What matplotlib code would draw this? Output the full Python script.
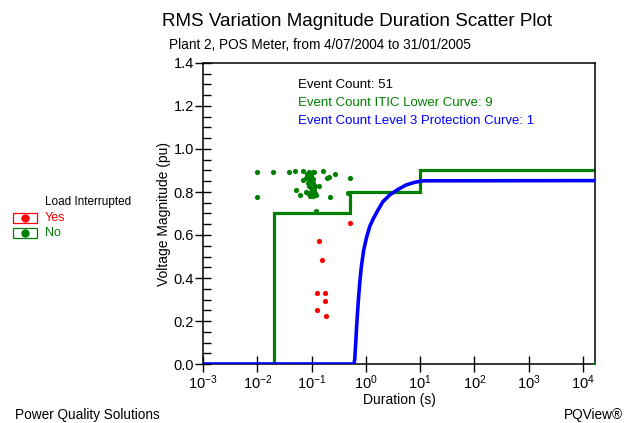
import matplotlib
matplotlib.use("Agg")
import matplotlib.pyplot as plt
from matplotlib.ticker import MultipleLocator, FormatStrFormatter, NullLocator
from matplotlib.patches import Rectangle
from matplotlib.lines import Line2D

plt.rcParams['font.family'] = ['Liberation Sans', 'DejaVu Sans']
plt.rcParams['mathtext.fontset'] = 'custom'
plt.rcParams['mathtext.rm'] = 'Liberation Sans'
plt.rcParams['mathtext.it'] = 'Liberation Sans'

# events - load not interrupted (green)
no_dur = [0.0097, 0.0196, 0.0385, 0.049, 0.070, 0.089, 0.104, 0.110, 0.163, 0.21,
          0.193, 0.275, 0.504, 0.070, 0.078, 0.089, 0.099, 0.107, 0.086, 0.114,
          0.137, 0.099, 0.051, 0.060, 0.086, 0.095, 0.107, 0.093, 0.123, 0.222,
          0.0097, 0.47, 0.120, 0.097, 0.082, 0.100, 0.110, 0.089, 0.092, 0.104,
          0.080, 0.116, 16500]
no_mag = [0.894, 0.894, 0.894, 0.896, 0.896, 0.893, 0.891, 0.893, 0.896, 0.870,
          0.864, 0.884, 0.867, 0.857, 0.865, 0.865, 0.876, 0.860, 0.842, 0.829,
          0.827, 0.819, 0.808, 0.787, 0.795, 0.787, 0.780, 0.780, 0.787, 0.775,
          0.775, 0.795, 0.710, 0.875, 0.884, 0.805, 0.809, 0.828, 0.850, 0.840,
          0.800, 0.795, 0.0]

# events - load interrupted (red)
yes_dur = [0.503, 0.137, 0.158, 0.128, 0.177, 0.177, 0.128, 0.188]
yes_mag = [0.654, 0.574, 0.484, 0.332, 0.332, 0.291, 0.251, 0.223]

# ITIC lower curve
itic_t = [0.001, 0.02, 0.02, 0.5, 0.5, 10, 10, 16600]
itic_v = [0.0, 0.0, 0.7, 0.7, 0.8, 0.8, 0.9, 0.9]

# level 3 protection curve
prot_t = [0.001, 0.60, 0.622, 0.649, 0.687, 0.728, 0.769, 0.826, 0.912, 1.02,
          1.175, 1.35, 1.67, 2.06, 2.74, 3.89, 5.55, 7.89, 11.2, 16600]
prot_v = [0.0, 0.0, 0.019, 0.096, 0.205, 0.298, 0.375, 0.453, 0.530, 0.585,
          0.639, 0.673, 0.716, 0.755, 0.786, 0.812, 0.833, 0.845, 0.852, 0.853]

xticks = [1e-3, 1e-2, 1e-1, 1e0, 1e1, 1e2, 1e3, 1e4]

fig = plt.figure(figsize=(6.27, 4.23), dpi=100)
ax = fig.add_axes([203/627, 1-364/423, (595-203)/627, (364-63)/423])

ax.plot(itic_t, itic_v, color='#008000', lw=2.3, zorder=2, solid_joinstyle='miter')
ax.plot(prot_t, prot_v, color='#0000ff', lw=2.6, zorder=3)
ax.scatter(no_dur, no_mag, s=14, color='#008000', zorder=4, linewidths=0)
ax.scatter(yes_dur, yes_mag, s=14, color='#ff0000', zorder=4, linewidths=0)

ax.set_xscale('log')
ax.set_xlim(1e-3, 16600)
ax.set_ylim(0, 1.4)
ax.set_xticks(xticks)
ax.xaxis.set_minor_locator(NullLocator())
ax.yaxis.set_major_locator(MultipleLocator(0.2))
ax.yaxis.set_minor_locator(MultipleLocator(0.05))
ax.yaxis.set_major_formatter(FormatStrFormatter('%.1f'))
ax.tick_params(axis='both', which='major', direction='inout', length=11, width=1, labelsize=10.5, pad=1)
ax.tick_params(axis='y', which='minor', direction='in', length=6, width=1)
for s in ax.spines.values():
    s.set_linewidth(1.1)

ax.set_xlabel('Duration (s)', fontsize=10, labelpad=1)
ax.set_ylabel('Voltage Magnitude (pu)', fontsize=10, labelpad=2)

ax.text(0.242, 0.928, 'Event Count: 51', transform=ax.transAxes, fontsize=9.5, color='black', va='center')
ax.text(0.242, 0.868, 'Event Count ITIC Lower Curve: 9', transform=ax.transAxes, fontsize=9.5, color='#008000', va='center')
ax.text(0.242, 0.808, 'Event Count Level 3 Protection Curve: 1', transform=ax.transAxes, fontsize=9.5, color='#0000ff', va='center')

fig.text(357/627, 1-22/423, 'RMS Variation Magnitude Duration Scatter Plot', ha='center', va='center', fontsize=13.5)
fig.text(320/627, 1-45/423, 'Plant 2, POS Meter, from 4/07/2004 to 31/01/2005', ha='center', va='center', fontsize=9.8)

# load interrupted legend
fig.text(45/627, 1-202/423, 'Load Interrupted', ha='left', va='center', fontsize=8.5)
for yy, col, lab in [(218, '#ff0000', 'Yes'), (233, '#008000', 'No')]:
    fig.add_artist(Rectangle((13/627, 1-(yy+5)/423), 24/627, 10/423, transform=fig.transFigure,
                             facecolor='white', edgecolor=col, lw=0.9))
    fig.add_artist(Line2D([25/627], [1-yy/423], transform=fig.transFigure, marker='o',
                          markersize=5, color=col, linestyle='none'))
    fig.text(45/627, 1-yy/423, lab, ha='left', va='center', fontsize=9, color=col)

fig.text(15/627, 1-415/423, 'Power Quality Solutions', ha='left', va='center', fontsize=9.8)
fig.text(623/627, 1-415/423, 'PQView®', ha='right', va='center', fontsize=9.8)

fig.savefig('out.png', dpi=100)
